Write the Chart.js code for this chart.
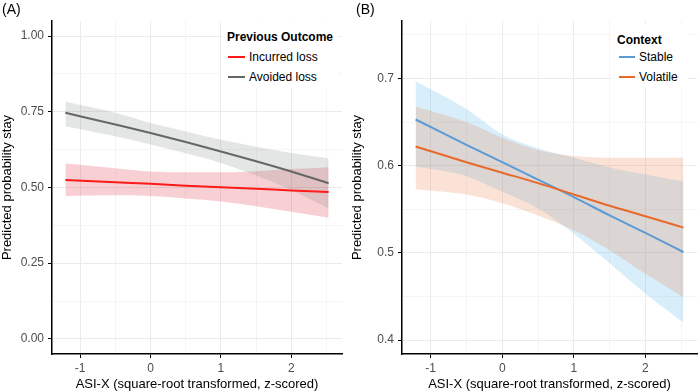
<!DOCTYPE html>
<html>
<head>
<meta charset="utf-8">
<script src="https://cdn.jsdelivr.net/npm/chart.js@4.4.0/dist/chart.umd.min.js"></script>
<style>
  body { margin: 0; background: #fff; font-family: "Liberation Sans", Arial, sans-serif; }
  #wrap { position: relative; width: 700px; height: 392px; }
  .panel { position: absolute; top: 0; width: 350px; height: 392px; }
  .tag { position: absolute; top: 1px; font-size: 14px; color: #000; }
  .legend { position: absolute; background: #fff; font-size: 12px; color: #000; }
  .legend .ttl { font-weight: bold; position: absolute; left: 5px; }
  .legend .item { position: absolute; left: 6px; white-space: nowrap; }
  .legend .sw { display: inline-block; width: 17px; height: 2px; vertical-align: middle; margin-right: 4px; position: relative; top: -1px; }
</style>
</head>
<body>
<div id="wrap">
  <div class="panel" style="left:0">
    <canvas id="chartA" width="350" height="392"></canvas>
    <div class="tag" style="left:2px">(A)</div>
    <div class="legend" style="left:222px; top:22px; width:116px; height:66px;">
      <div class="ttl" style="top:8px">Previous Outcome</div>
      <div class="item" style="top:28px"><span class="sw" style="background:#ff1a1a"></span>Incurred loss</div>
      <div class="item" style="top:48px"><span class="sw" style="background:#666666"></span>Avoided loss</div>
    </div>
  </div>
  <div class="panel" style="left:350px">
    <canvas id="chartB" width="350" height="392"></canvas>
    <div class="tag" style="left:6px">(B)</div>
    <div class="legend" style="left:262px; top:24px; width:76px; height:64px;">
      <div class="ttl" style="top:9px">Context</div>
      <div class="item" style="top:26px; left:7px"><span class="sw" style="background:#5b9bd5; width:16px"></span>Stable</div>
      <div class="item" style="top:46px; left:7px"><span class="sw" style="background:#e8692a; width:16px"></span>Volatile</div>
    </div>
  </div>
</div>
<script>
// valores de x donde se leen las curvas
const xVals = [-1.21, -0.5, 0, 0.5, 1, 1.5, 2, 2.53];

// Panel A: resultado previo
const incurred   = [0.525, 0.517, 0.512, 0.506, 0.501, 0.496, 0.490, 0.485];
const incurredUp = [0.579, 0.564, 0.553, 0.550, 0.550, 0.554, 0.561, 0.567];
const incurredLo = [0.472, 0.474, 0.472, 0.464, 0.454, 0.438, 0.420, 0.400];
const avoided    = [0.747, 0.708, 0.680, 0.650, 0.619, 0.587, 0.553, 0.514];
const avoidedUp  = [0.783, 0.747, 0.713, 0.685, 0.658, 0.635, 0.614, 0.597];
const avoidedLo  = [0.702, 0.669, 0.642, 0.613, 0.581, 0.540, 0.492, 0.431];

// Panel B: contexto
const stable     = [0.653, 0.624, 0.604, 0.584, 0.564, 0.543, 0.523, 0.501];
const stableUp   = [0.697, 0.665, 0.636, 0.620, 0.609, 0.598, 0.590, 0.582];
const stableLo   = [0.599, 0.588, 0.570, 0.551, 0.522, 0.488, 0.453, 0.420];
const volatile   = [0.622, 0.604, 0.592, 0.580, 0.567, 0.554, 0.542, 0.529];
const volatileUp = [0.668, 0.650, 0.632, 0.618, 0.611, 0.609, 0.609, 0.609];
const volatileLo = [0.573, 0.567, 0.557, 0.543, 0.526, 0.503, 0.476, 0.449];

// lineas de la rejilla (mayores y menores) y etiquetas
const xGrid  = [-1, -0.5, 0, 0.5, 1, 1.5, 2, 2.5];
const xMajor = [-1, 0, 1, 2];
const yGridA  = [0, 0.125, 0.25, 0.375, 0.5, 0.625, 0.75, 0.875, 1];
const yMajorA = [0, 0.25, 0.5, 0.75, 1];
const yGridB  = [0.4, 0.45, 0.5, 0.55, 0.6, 0.65, 0.7, 0.75];
const yMajorB = [0.4, 0.5, 0.6, 0.7];

const xTitle = "ASI-X (square-root transformed, z-scored)";
const yTitle = "Predicted probability stay";

function pts(arr) {
    return xVals.map((x, i) => ({ x: x, y: arr[i] }));
}

function lineSet(arr, color, order) {
    return { data: pts(arr), borderColor: color, borderWidth: 2, pointRadius: 0,
             fill: false, cubicInterpolationMode: "monotone", order: order };
}

function bandSets(up, lo, fillColor) {
    return [
        { data: pts(up), borderWidth: 0, pointRadius: 0, backgroundColor: fillColor,
          fill: "+1", cubicInterpolationMode: "monotone", order: 5 },
        { data: pts(lo), borderWidth: 0, pointRadius: 0, fill: false,
          cubicInterpolationMode: "monotone", order: 5 }
    ];
}

function isMajor(list, v) {
    return list.some(m => Math.abs(m - v) < 1e-6);
}

function makeScales(yMin, yMax, yGrid, yMajor, digits) {
    return {
        x: {
            type: "linear", min: -1.40, max: 2.72,
            afterBuildTicks: s => { s.ticks = xGrid.map(v => ({ value: v })); },
            afterFit: s => { s.height = 38; },
            ticks: {
                autoSkip: false, maxRotation: 0, padding: 3,
                color: "#4d4d4d", font: { family: "Liberation Sans", size: 12 },
                callback: v => isMajor(xMajor, v) ? String(v) : ""
            },
            grid: {
                color: c => isMajor(xMajor, c.tick.value) ? "#ebebeb" : "#f5f5f5",
                tickColor: c => isMajor(xMajor, c.tick.value) ? "#000" : "rgba(0,0,0,0)",
                tickLength: 4, lineWidth: 1
            },
            border: { display: true, color: "#000", width: 1.5 },
            title: { display: true, text: xTitle, color: "#000", padding: 0,
                     font: { family: "Liberation Sans", size: 13 } }
        },
        y: {
            type: "linear", min: yMin, max: yMax,
            afterBuildTicks: s => { s.ticks = yGrid.map(v => ({ value: v })); },
            afterFit: s => { s.width = 52; },
            ticks: {
                autoSkip: false, padding: 4,
                color: "#4d4d4d", font: { family: "Liberation Sans", size: 12 },
                callback: v => isMajor(yMajor, v) ? v.toFixed(digits) : ""
            },
            grid: {
                color: c => isMajor(yMajor, c.tick.value) ? "#ebebeb" : "#f5f5f5",
                tickColor: c => isMajor(yMajor, c.tick.value) ? "#000" : "rgba(0,0,0,0)",
                tickLength: 4, lineWidth: 1
            },
            border: { display: true, color: "#000", width: 1.5 },
            title: { display: true, text: yTitle, color: "#000", padding: 0,
                     font: { family: "Liberation Sans", size: 13 } }
        }
    };
}

function makeChart(id, datasets, scales, padRight) {
    return new Chart(document.getElementById(id), {
        type: "line",
        data: { datasets: datasets },
        options: {
            responsive: false,
            animation: false,
            layout: { padding: { top: 21, right: padRight, left: 0, bottom: 0 } },
            scales: scales,
            plugins: {
                legend: { display: false },
                tooltip: { enabled: false },
                filler: { drawTime: "beforeDatasetsDraw" }
            }
        }
    });
}

// las bandas con indice menor se pintan encima
makeChart("chartA", [
    lineSet(avoided, "#666666", 0),
    lineSet(incurred, "#ff1a1a", 1),
    ...bandSets(avoidedUp, avoidedLo, "rgba(120,128,128,0.2)"),
    ...bandSets(incurredUp, incurredLo, "rgba(225,40,60,0.22)")
], makeScales(-0.05, 1.05, yGridA, yMajorA, 2), 8);

makeChart("chartB", [
    lineSet(volatile, "#e8692a", 0),
    lineSet(stable, "#5b9bd5", 1),
    ...bandSets(volatileUp, volatileLo, "rgba(232,110,50,0.2)"),
    ...bandSets(stableUp, stableLo, "rgba(100,190,240,0.25)")
], makeScales(0.384, 0.766, yGridB, yMajorB, 1), 3);
</script>
</body>
</html>
